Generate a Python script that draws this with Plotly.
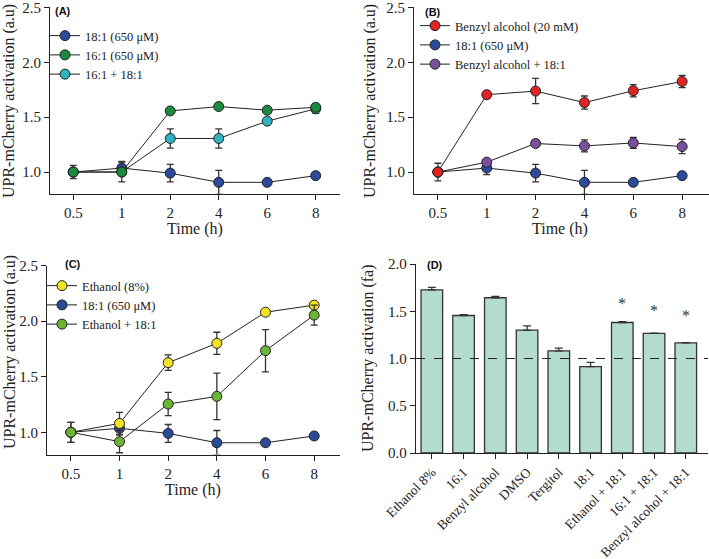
import plotly.graph_objects as go

# time points (h), used as categories
time_labels = ["0.5", "1", "2", "4", "6", "8"]

# 18:1 (650 uM) - shared by panels A, B, C
oleic_mean = [1.00, 1.036, 0.99, 0.906, 0.906, 0.967]
oleic_err = [0.03, 0.06, 0.08, 0.11, 0.01, 0.01]

# panel A
palm_mean = [1.00, 1.00, 1.557, 1.597, 1.564, 1.59]
palm_err = [0.06, 0.09, 0.01, 0.01, 0.01, 0.03]
palm_oleic_mean = [1.00, 1.00, 1.306, 1.306, 1.464, 1.576]
palm_oleic_err = [0.03, 0.03, 0.088, 0.088, 0.01, 0.04]

# panel B
benzyl_mean = [1.00, 1.705, 1.738, 1.633, 1.741, 1.825]
benzyl_err = [0.08, 0.03, 0.115, 0.06, 0.055, 0.055]
benzyl_oleic_mean = [1.00, 1.09, 1.26, 1.238, 1.265, 1.232]
benzyl_oleic_err = [0.03, 0.01, 0.01, 0.055, 0.05, 0.065]

# panel C
ethanol_mean = [1.00, 1.08, 1.626, 1.80, 2.08, 2.144]
ethanol_err = [0.09, 0.10, 0.07, 0.10, 0.01, 0.03]
ethanol_oleic_mean = [1.00, 0.916, 1.254, 1.323, 1.734, 2.054]
ethanol_oleic_err = [0.09, 0.10, 0.105, 0.21, 0.19, 0.09]

# panel D
treatments = ["Ethanol 8%", "16:1", "Benzyl alcohol", "DMSO", "Tergitol", "18:1",
              "Ethanol + 18:1", "16:1 + 18:1", "Benzyl alcohol + 18:1"]
fold_mean = [1.727, 1.455, 1.643, 1.30, 1.081, 0.914, 1.381, 1.266, 1.165]
fold_err = [0.025, 0.01, 0.015, 0.045, 0.03, 0.045, 0.01, 0.003, 0.003]
star_labels = ["Ethanol + 18:1", "16:1 + 18:1", "Benzyl alcohol + 18:1"]
star_y = [1.58, 1.51, 1.45]

SERIF = "Liberation Serif"
INK = "#222222"
W, H = 709, 559

fig = go.Figure()


def add_line(name, mean, err, color, xa, ya, legend, rank):
    fig.add_trace(go.Scatter(
        x=time_labels, y=mean, name=name, mode="lines+markers",
        xaxis=xa, yaxis=ya, legend=legend, legendrank=rank,
        line=dict(color=INK, width=1),
        marker=dict(color=color, size=10, line=dict(color=INK, width=1)),
        error_y=dict(type="data", array=err, color="#333333", thickness=1.3, width=3.5),
    ))


BLUE = "#2b4a9a"
# panel A
add_line("18:1 (650 μM)", oleic_mean, oleic_err, BLUE, "x", "y", "legend", 1)
add_line("16:1 + 18:1", palm_oleic_mean, palm_oleic_err, "#2fb3c3", "x", "y", "legend", 3)
add_line("16:1 (650 μM)", palm_mean, palm_err, "#1b8a3c", "x", "y", "legend", 2)
# panel B
add_line("18:1 (650 μM)", oleic_mean, oleic_err, BLUE, "x2", "y2", "legend2", 2)
add_line("Benzyl alcohol + 18:1", benzyl_oleic_mean, benzyl_oleic_err, "#7b4fa0", "x2", "y2", "legend2", 3)
add_line("Benzyl alcohol (20 mM)", benzyl_mean, benzyl_err, "#e02424", "x2", "y2", "legend2", 1)
# panel C
add_line("18:1 (650 μM)", oleic_mean, oleic_err, BLUE, "x3", "y3", "legend3", 2)
add_line("Ethanol (8%)", ethanol_mean, ethanol_err, "#f2e224", "x3", "y3", "legend3", 1)
add_line("Ethanol + 18:1", ethanol_oleic_mean, ethanol_oleic_err, "#6cb534", "x3", "y3", "legend3", 3)

# panel D
fig.add_trace(go.Bar(
    x=treatments, y=fold_mean, xaxis="x4", yaxis="y4", showlegend=False, width=0.68,
    marker=dict(color="#b4dccb", line=dict(color="#333333", width=1.3)),
    error_y=dict(type="data", array=fold_err, symmetric=False, arrayminus=[0] * len(fold_err),
                 color="#333333", thickness=1.3, width=4),
))
for lab, yv in zip(star_labels, star_y):
    fig.add_annotation(x=lab, y=yv, xref="x4", yref="y4", text="*", showarrow=False,
                       font=dict(family=SERIF, size=16, color="#333333"))
fig.add_shape(type="line", xref="x4 domain", yref="y4", x0=0, x1=1, y0=1, y1=1,
              line=dict(color=INK, width=1, dash="dash"))

tickfont = dict(family=SERIF, size=15, color=INK)
titlefont = dict(family=SERIF, size=16, color=INK)
ax_common = dict(showline=True, linecolor=INK, linewidth=1.2, ticks="outside", ticklen=5,
                 tickcolor=INK, tickfont=tickfont, showgrid=False, zeroline=False,
                 automargin=False, ticklabeloverflow="allow")
legfont = dict(family=SERIF, size=12.5, color=INK)

fig.update_layout(
    width=W, height=H, margin=dict(l=0, r=0, t=0, b=0),
    paper_bgcolor="white", plot_bgcolor="white",
    font=dict(family=SERIF, color=INK),
    xaxis=dict(domain=[0.0705, 0.4795], range=[-0.48, 5.5], type="category", anchor="y", **ax_common),
    yaxis=dict(domain=[0.653, 0.9866], range=[0.8, 2.5], tickvals=[1.0, 1.5, 2.0, 2.5],
               tickformat=".1f", anchor="x", **ax_common),
    xaxis2=dict(domain=[0.5839, 1.0], range=[-0.49, 5.55], type="category", anchor="y2", **ax_common),
    yaxis2=dict(domain=[0.653, 0.9866], range=[0.8, 2.5], tickvals=[1.0, 1.5, 2.0, 2.5],
                tickformat=".1f", anchor="x2", **ax_common),
    xaxis3=dict(domain=[0.0663, 0.4795], range=[-0.49, 5.53], type="category", anchor="y3", **ax_common),
    yaxis3=dict(domain=[0.1869, 0.525], range=[0.8, 2.5], tickvals=[1.0, 1.5, 2.0, 2.5],
                tickformat=".1f", anchor="x3", **ax_common),
    xaxis4=dict(domain=[0.5867, 0.9986], range=[-0.5, 8.7], type="category", tickangle=-45,
                anchor="y4", **ax_common),
    yaxis4=dict(domain=[0.1896, 0.5277], range=[0, 2.0], tickvals=[0, 0.5, 1.0, 1.5, 2.0],
                tickformat=".1f", anchor="x4", **ax_common),
    legend=dict(x=45 / W, y=1 - 21 / H, xanchor="left", yanchor="top",
                bgcolor="rgba(0,0,0,0)", font=legfont),
    legend2=dict(x=415 / W, y=1 - 11 / H, xanchor="left", yanchor="top",
                 bgcolor="rgba(0,0,0,0)", font=legfont),
    legend3=dict(x=42 / W, y=1 - 271 / H, xanchor="left", yanchor="top",
                 bgcolor="rgba(0,0,0,0)", font=legfont),
)
fig.update_xaxes(tickfont=dict(family=SERIF, size=13.5, color=INK), selector=dict(anchor="y4"))

# axis titles placed as paper annotations
yt = "UPR-mCherry activation (a.u)"
titles = [
    ("Time (h)", 195, 229, 0), ("Time (h)", 560, 229, 0), ("Time (h)", 193, 490, 0),
    (yt, 9, 101, -90), (yt, 370, 101, -90), (yt, 10, 352, -90),
    ("UPR-mCherry activation (fa)", 368, 358, -90),
]
for txt, tx, ty, ang in titles:
    fig.add_annotation(x=tx / W, y=1 - ty / H, xref="paper", yref="paper", text=txt,
                       xanchor="center", yanchor="middle",
                       showarrow=False, textangle=ang, font=titlefont)

panel_font = dict(family="Liberation Sans", size=11, color="#111")
for txt, px_, py_ in [("<b>(A)</b>", 53, 11), ("<b>(B)</b>", 423, 12),
                      ("<b>(C)</b>", 63, 264), ("<b>(D)</b>", 425, 265)]:
    fig.add_annotation(x=px_ / W, y=1 - py_ / H, xref="paper", yref="paper", text=txt,
                       showarrow=False, xanchor="left", yanchor="middle", font=panel_font)

# drop the default page margin so the figure sits at the window's corner
fig.write_html("out.html", config={"displayModeBar": False},
               post_script="document.body.style.margin='0';")
